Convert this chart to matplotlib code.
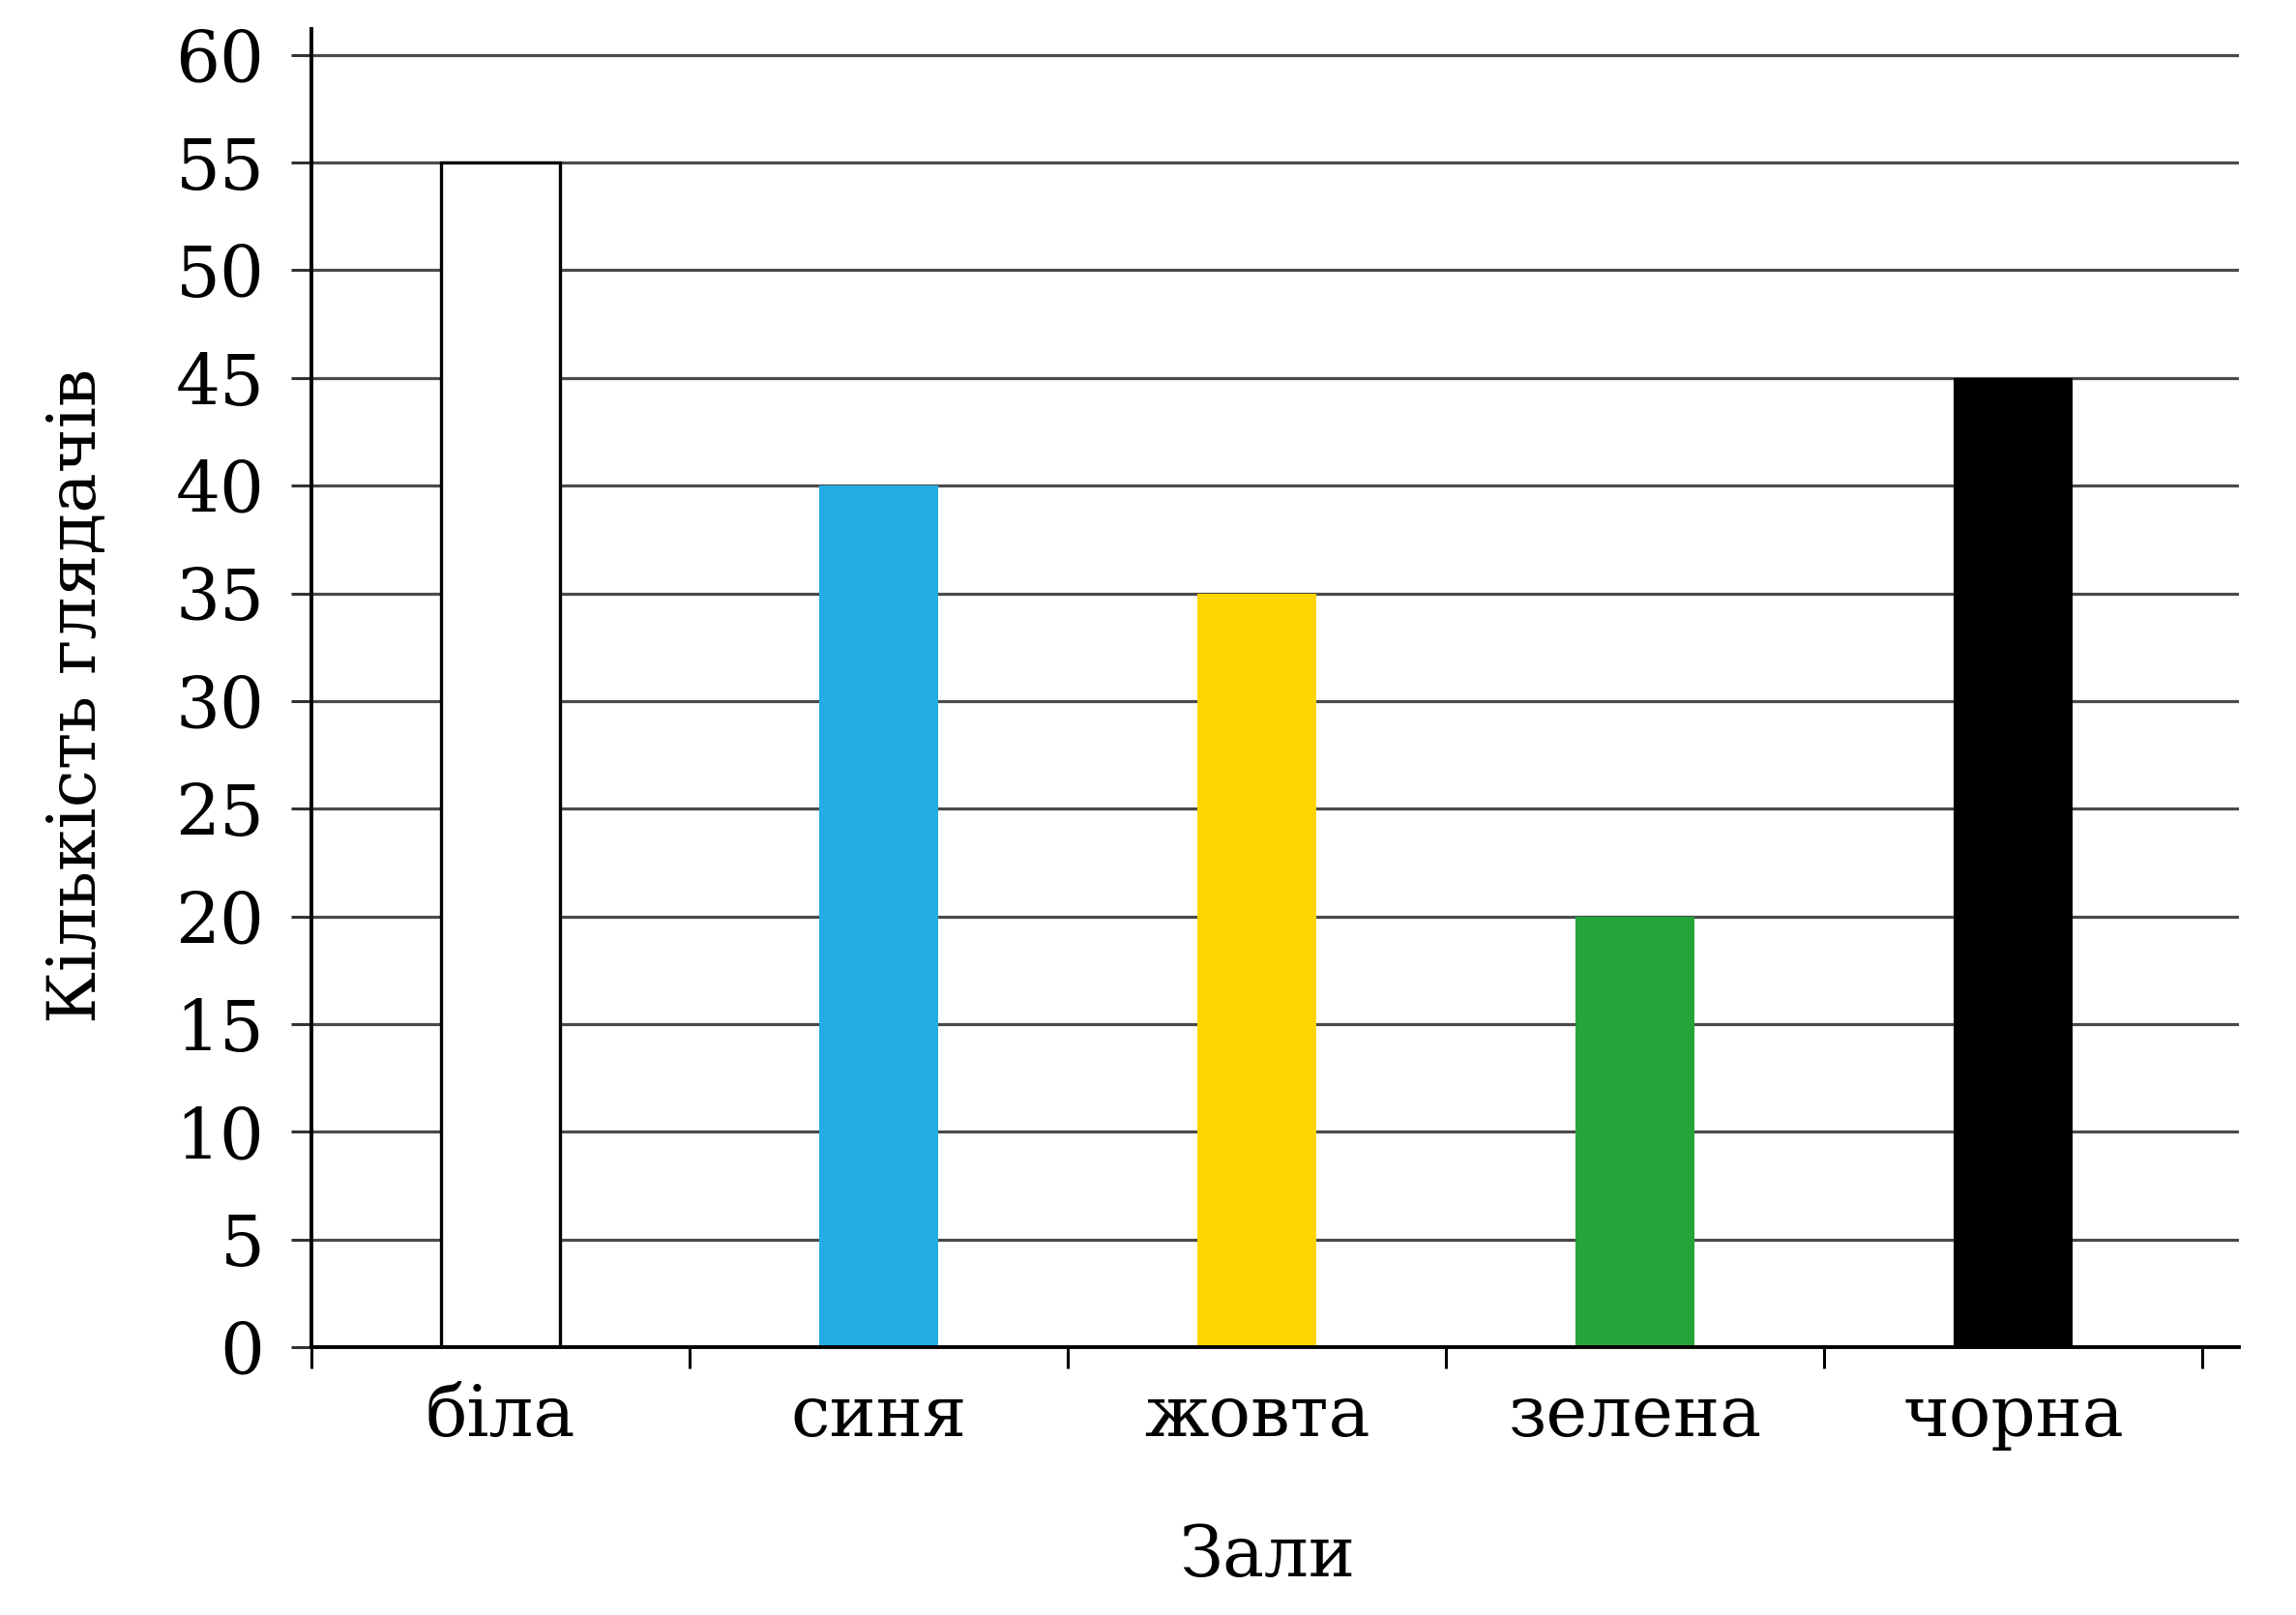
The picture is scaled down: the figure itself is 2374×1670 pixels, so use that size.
import matplotlib
matplotlib.use("Agg")
import matplotlib.pyplot as plt
import numpy as np
from matplotlib.ticker import FixedLocator, NullFormatter

categories = ["біла", "синя", "жовта", "зелена", "чорна"]
values = [55, 40, 35, 20, 45]
bar_colors = ["#FFFFFF", "#22ADE4", "#FFD500", "#24A53B", "#000000"]
yticks = list(range(0, 61, 5))
xlabel = "Зали"
ylabel = "Кількість глядачів"

plt.rcParams['font.family'] = ['DejaVu Serif']

W, H = 2374, 1670
dpi = 200
fig = plt.figure(figsize=(W / dpi, H / dpi), dpi=dpi)
ax = fig.add_axes([322 / W, 1 - 1393 / H, (2315 - 322) / W, (1393 - 30) / H])

x = np.arange(len(categories))
ax.set_axisbelow(True)
for ytk in yticks[1:]:
    ax.axhline(ytk, color="#4a4a4a", linewidth=1.15, zorder=1)

ax.bar(x, values, width=0.315, color=bar_colors,
       edgecolor=["black" if c == "#FFFFFF" else c for c in bar_colors],
       linewidth=[1.2 if c == "#FFFFFF" else 0 for c in bar_colors], zorder=3)

ax.set_xlim(-0.5, 4.597)
ax.set_ylim(0, 61.2)

ax.spines['top'].set_visible(False)
ax.spines['right'].set_visible(False)
ax.spines['left'].set_linewidth(1.4)
ax.spines['bottom'].set_linewidth(1.4)
ax.spines['left'].set_zorder(4)
ax.spines['bottom'].set_zorder(4)

ax.set_yticks(yticks)
ax.set_yticklabels([str(v) for v in yticks])
ax.tick_params(axis='y', direction='out', length=7.5, width=1.1, pad=10, labelsize=26, color="#333333")

ax.xaxis.set_major_locator(FixedLocator(list(np.arange(-0.5, 5, 1.0))))
ax.xaxis.set_major_formatter(NullFormatter())
ax.xaxis.set_minor_locator(FixedLocator(list(x)))
ax.set_xticklabels(categories, minor=True)
ax.tick_params(axis='x', which='major', direction='out', length=8, width=1.1)
ax.tick_params(axis='x', which='minor', length=0, pad=13, labelsize=26)

fig.text(1310 / W, 1 - 1610 / H, xlabel, ha='center', va='center', fontsize=26)
fig.text(80 / W, 1 - 719 / H, ylabel, ha='center', va='center', rotation=90, fontsize=25)

fig.savefig("out.png", dpi=dpi, facecolor="white")
